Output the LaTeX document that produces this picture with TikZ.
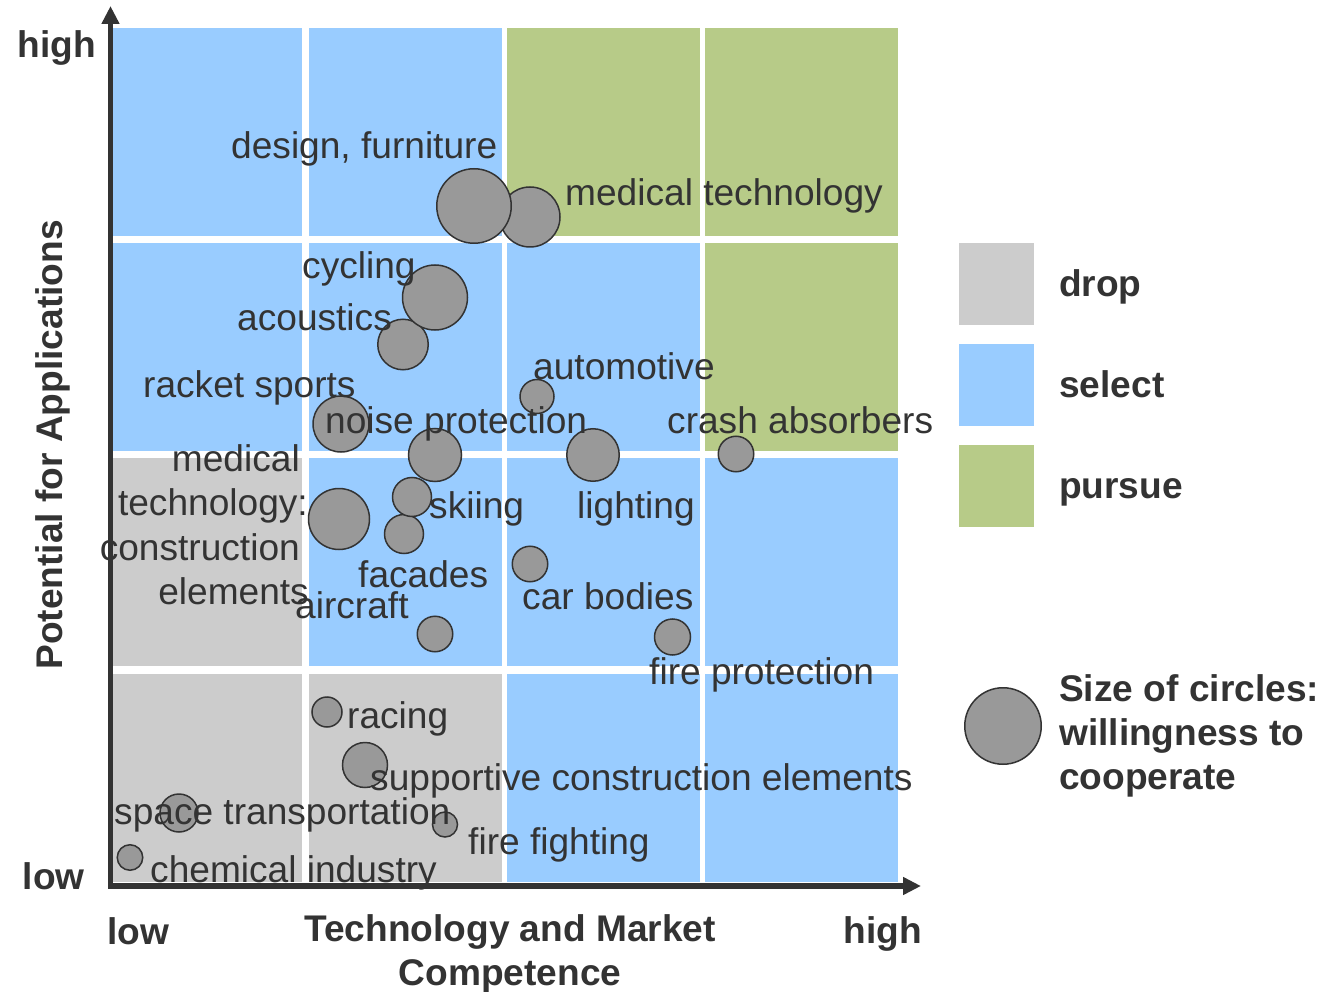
\documentclass[tikz,border=0pt]{standalone}
\usepackage{fontspec}
\setmainfont{Liberation Sans}
\usetikzlibrary{arrows.meta}
\definecolor{selblue}{HTML}{99CCFF}
\definecolor{purgreen}{HTML}{B7CB88}
\definecolor{dropgray}{HTML}{CCCCCC}
\definecolor{bubfill}{HTML}{999999}
\definecolor{ink}{HTML}{333333}
\begin{document}
\begin{tikzpicture}[x=1pt,y=-1pt,
  cell/.style={fill=#1,draw=none},
  bub/.style={circle,draw=ink,fill=bubfill,line width=1.5pt,inner sep=0pt,minimum size=#1},
  lbl/.style={inner sep=0pt,text=ink,font=\fontsize{37.1}{44}\selectfont},
  blbl/.style={inner sep=0pt,text=ink,font=\fontsize{37.1}{44}\selectfont\bfseries},
  axis/.style={draw=ink,line width=5.7pt,{Triangle[length=18pt,width=17pt]}-{Triangle[length=18pt,width=17pt]}},
]
\useasboundingbox (0,0) rectangle (1323,992);
\fill[white] (0,0) rectangle (1323,992);
% grid cells: row 1
\path[cell=selblue]  (113,28) rectangle (302,236);
\path[cell=selblue]  (309,28) rectangle (502,236);
\path[cell=purgreen] (507,28) rectangle (700,236);
\path[cell=purgreen] (705,28) rectangle (898,236);
% row 2
\path[cell=selblue]  (113,243) rectangle (302,451);
\path[cell=selblue]  (309,243) rectangle (502,451);
\path[cell=selblue]  (507,243) rectangle (700,451);
\path[cell=purgreen] (705,243) rectangle (898,451);
% row 3
\path[cell=dropgray] (113,458) rectangle (302,666);
\path[cell=selblue]  (309,458) rectangle (502,666);
\path[cell=selblue]  (507,458) rectangle (700,666);
\path[cell=selblue]  (705,458) rectangle (898,666);
% row 4
\path[cell=dropgray] (113,674) rectangle (302,882);
\path[cell=dropgray] (309,674) rectangle (502,882);
\path[cell=selblue]  (507,674) rectangle (700,882);
\path[cell=selblue]  (705,674) rectangle (898,882);
% axes
\coordinate (O) at (110.5,886);
\coordinate (ytip) at (110.5,6);
\coordinate (xtip) at (921,886);
\draw[axis] (ytip) -- (O) -- (xtip);
% bubbles
\node[bub=60] (bMedTech) at (530,217) {};
\node[bub=74.5] (bDesign) at (474,206) {};
\node[bub=50.5] (bAcoustics) at (403,344.5) {};
\node[bub=65] (bCycling) at (435,297.5) {};
\node[bub=34] (bAutomotive) at (537,396.5) {};
\node[bub=56] (bRacket) at (341,424) {};
\node[bub=53] (bNoise) at (435,455) {};
\node[bub=52.5] (bLighting) at (593,455) {};
\node[bub=35.5] (bCrash) at (736,454) {};
\node[bub=61] (bMedConstr) at (339,519) {};
\node[bub=39] (bFacades) at (404,534) {};
\node[bub=39] (bSkiing) at (412,497) {};
\node[bub=35.5] (bCarBodies) at (530,564) {};
\node[bub=35.5] (bAircraft) at (435,634) {};
\node[bub=36] (bFireProt) at (672.5,637) {};
\node[bub=30] (bRacing) at (327,712) {};
\node[bub=45] (bSupportive) at (365,765) {};
\node[bub=38] (bSpace) at (179,813) {};
\node[bub=25] (bFireFight) at (445,824.5) {};
\node[bub=25.5] (bChemical) at (130,857.5) {};
% plot labels
\node[lbl,anchor=base west] (tDesign) at (231,159) {design, furniture};
\node[lbl,anchor=base west] (tMedTech) at (565,206) {medical technology};
\node[lbl,anchor=base west] (tCycling) at (302,279) {cycling};
\node[lbl,anchor=base west] (tAcoustics) at (237,331) {acoustics};
\node[lbl,anchor=base west] (tRacket) at (143,397) {racket sports};
\node[lbl,anchor=base west] (tNoise) at (325,433) {noise protection};
\node[lbl,anchor=base west] (tAutomotive) at (533,379) {automotive};
\node[lbl,anchor=base west] (tCrash) at (667,433) {crash absorbers};
\node[lbl,anchor=base east] (tMC1) at (300,471) {medical};
\node[lbl,anchor=base east] (tMC2) at (308,515) {technology:};
\node[lbl,anchor=base east] (tMC3) at (300,560) {construction};
\node[lbl,anchor=base east] (tMC4) at (309,604) {elements};
\node[lbl,anchor=base west] (tSkiing) at (429,518) {skiing};
\node[lbl,anchor=base west] (tLighting) at (577,518) {lighting};
\node[lbl,anchor=base west] (tFacades) at (358,587) {facades};
\node[lbl,anchor=base west] (tAircraft) at (295,618) {aircraft};
\node[lbl,anchor=base west] (tCarBodies) at (522,609) {car bodies};
\node[lbl,anchor=base west] (tFireProt) at (649,684) {fire protection};
\node[lbl,anchor=base west] (tRacing) at (347,728) {racing};
\node[lbl,anchor=base west] (tSupportive) at (370,790) {supportive construction elements};
\node[lbl,anchor=base west] (tSpace) at (114,824) {space transportation};
\node[lbl,anchor=base west] (tFireFight) at (468,854) {fire fighting};
\node[lbl,anchor=base west] (tChemical) at (150,882) {chemical industry};
% axis labels
\node[blbl,anchor=base east] (yHigh) at (96,58) {high};
\node[blbl,anchor=base east] (yLow) at (85,889) {low};
\node[blbl,anchor=base west] (xLow) at (107,944) {low};
\node[blbl,anchor=base east] (xHigh) at (922,943) {high};
\node[blbl,anchor=base] (xTitle1) at (510,941) {Technology and Market};
\node[blbl,anchor=base] (xTitle2) at (510,985) {Competence};
\node[blbl,anchor=base,rotate=90] (yTitle) at (62,445) {Potential for Applications};
% legend
\path[cell=dropgray] (959,243) rectangle (1034,325);
\path[cell=selblue]  (959,344) rectangle (1034,426);
\path[cell=purgreen] (959,445) rectangle (1034,527);
\node[blbl,anchor=base west] (lDrop) at (1059,297) {drop};
\node[blbl,anchor=base west] (lSelect) at (1059,397) {select};
\node[blbl,anchor=base west] (lPursue) at (1059,498) {pursue};
\node[bub=76.5] (lBub) at (1003,726) {};
\node[blbl,anchor=base west] (lSize1) at (1059,701) {Size of circles:};
\node[blbl,anchor=base west] (lSize2) at (1059,745) {willingness to};
\node[blbl,anchor=base west] (lSize3) at (1059,789) {cooperate};
\end{tikzpicture}
\end{document}
